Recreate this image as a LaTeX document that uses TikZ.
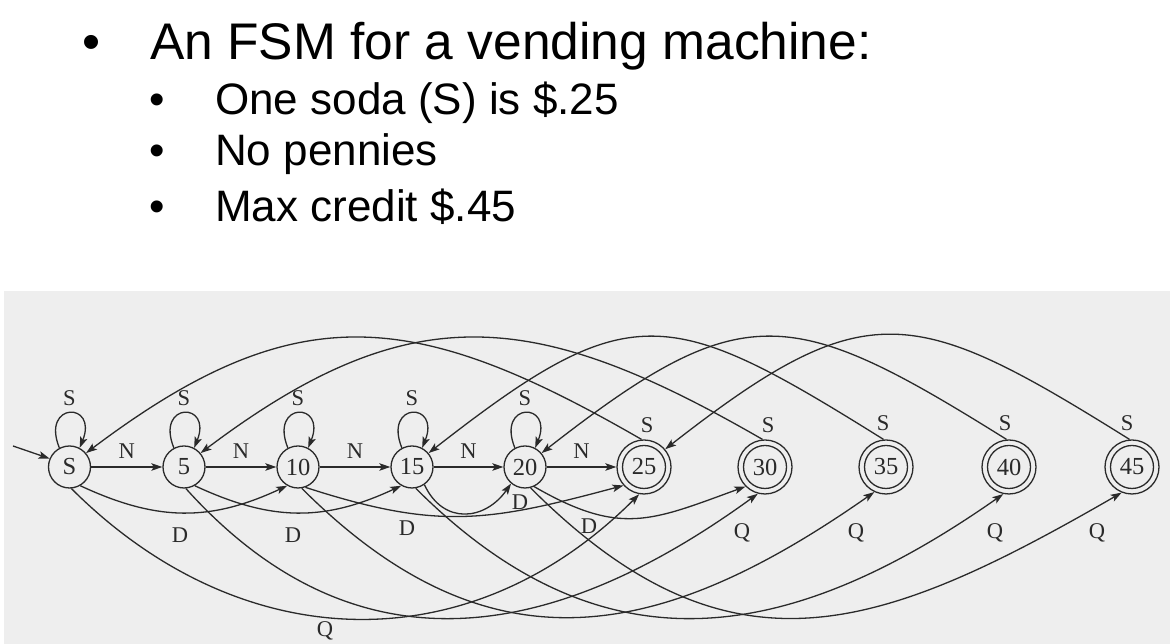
\documentclass[tikz,border=0pt]{standalone}
\usepackage{fontspec}
\setmainfont{Liberation Sans}
\newfontfamily\dfont{Liberation Serif}
\usetikzlibrary{arrows.meta}
\definecolor{panel}{HTML}{EEEEEE}
\definecolor{ink}{HTML}{2A2A2A}
\begin{document}
\begin{tikzpicture}[x=1pt,y=1pt,
  st/.style={circle, draw=ink, line width=1.3pt, minimum size=42pt, inner sep=0pt,
    font=\dfont\fontsize{24.5}{26}\selectfont, text=ink},
  acc/.style={st, minimum size=54pt,
    path picture={\draw[ink,line width=1.3pt] (path picture bounding box.center) circle (21.5pt);}},
  arr/.style={draw=ink, line width=1.3pt, -{Stealth[length=11pt,width=7.5pt,inset=2.5pt]}},
  lbl/.style={font=\dfont\fontsize{22.5}{24}\selectfont, text=ink, inner sep=2pt},
  big/.style={font=\fontsize{51.5}{60}\selectfont, inner sep=0pt, text=black},
  mid/.style={font=\fontsize{44}{52}\selectfont, inner sep=0pt, text=black}
]
\useasboundingbox (0,0) rectangle (1170,644);
\fill[white] (0,0) rectangle (1170,644);
\fill[panel] (3.5,0) rectangle (1170,352.5);

% title text
\node[big, anchor=base] (b1) at (92,584) {•};
\node[big, anchor=base west] (t1) at (150,584) {An FSM for a vending machine:};
\node[mid, anchor=base] (b2) at (157,529) {•};
\node[mid, anchor=base west] (t2) at (215,529) {One soda (S) is \$.25};
\node[mid, anchor=base] (b3) at (157,478) {•};
\node[mid, anchor=base west] (t3) at (215,478) {No pennies};
\node[mid, anchor=base] (b4) at (157,422) {•};
\node[mid, anchor=base west] (t4) at (215,422) {Max credit \$.45};

% states
\node[st] (nS) at (69.5,177) {S};
\node[st] (n5) at (184,177) {5};
\node[st] (n10) at (298,177) {10};
\node[st] (n15) at (412,177) {15};
\node[st] (n20) at (525,177) {20};
\node[acc] (n25) at (644,177) {25};
\node[acc] (n30) at (765,177) {30};
\node[acc] (n35) at (886,177) {35};
\node[acc] (n40) at (1009,177) {40};
\node[acc] (n45) at (1132,177) {45};

% initial arrow
\coordinate (init) at (13,198);
\draw[arr] (init) -- (nS.157);

% self loops
\foreach \n in {nS,n5,n10,n15,n20}{
  \draw[arr] (\n.118) to[out=112,in=68,distance=50pt] node[lbl,above=5pt]{S} (\n.62);
}

% nickel edges
\draw[arr] (nS) -- node[lbl,above=5.5pt]{N} (n5);
\draw[arr] (n5) -- node[lbl,above=5.5pt]{N} (n10);
\draw[arr] (n10) -- node[lbl,above=5.5pt]{N} (n15);
\draw[arr] (n15) -- node[lbl,above=5.5pt]{N} (n20);
\draw[arr] (n20) -- node[lbl,above=5.5pt]{N} (n25);

% soda return arcs (top)
\draw[arr] (n25.95) to[out=150,in=37,distance=263pt] (nS.40);
\draw[arr] (n30.95) to[out=150,in=37,distance=263pt] (n5.40);
\draw[arr] (n35.95) to[out=148,in=38,distance=255pt] (n15.40);
\draw[arr] (n40.95) to[out=148,in=38,distance=255pt] (n20.40);
\draw[arr] (n45.95) to[out=148,in=38,distance=255pt] (n25.40);
\node[lbl] (s25) at (647,219) {S};
\node[lbl] (s30) at (768,219) {S};
\node[lbl] (s35) at (883,221) {S};
\node[lbl] (s40) at (1005,221) {S};
\node[lbl] (s45) at (1127,221) {S};

% dime edges
\draw[arr] (nS.-60) to[out=-25,in=-155,distance=85pt] (n10.-120);
\draw[arr] (n5.-60) to[out=-25,in=-155,distance=85pt] (n15.-120);
\draw[arr] (n10.-70) to[out=-18,in=195,distance=140pt] (n25.-138);
\draw[arr] (n15.-55) to[out=-65,in=-125,distance=45pt] (n20.-130);
\draw[arr] (n20.-65) to[out=-30,in=200,distance=100pt] (n30.-135);
\node[lbl] (d1) at (180,109) {D};
\node[lbl] (d2) at (293,109) {D};
\node[lbl] (d3) at (407,116) {D};
\node[lbl] (d4) at (520,142) {D};
\node[lbl] (d5) at (589,118) {D};

% quarter edges
\draw[arr] (nS.-85) to[out=-45,in=-135,distance=240pt] (n25.-100);
\draw[arr] (n5.-85) to[out=-48,in=-144,distance=254pt] (n30.-105);
\draw[arr] (n10.-80) to[out=-45,in=-145,distance=264pt] (n35.-115);
\draw[arr] (n15.-80) to[out=-45,in=-145,distance=264pt] (n40.-102);
\draw[arr] (n20.-75) to[out=-45,in=-150,distance=281pt] (n45.-112);
\node[lbl] (q1) at (325,13) {Q};
\node[lbl] (q2) at (742,111) {Q};
\node[lbl] (q3) at (856,111) {Q};
\node[lbl] (q4) at (995,111) {Q};
\node[lbl] (q5) at (1097,111) {Q};
\end{tikzpicture}
\end{document}
